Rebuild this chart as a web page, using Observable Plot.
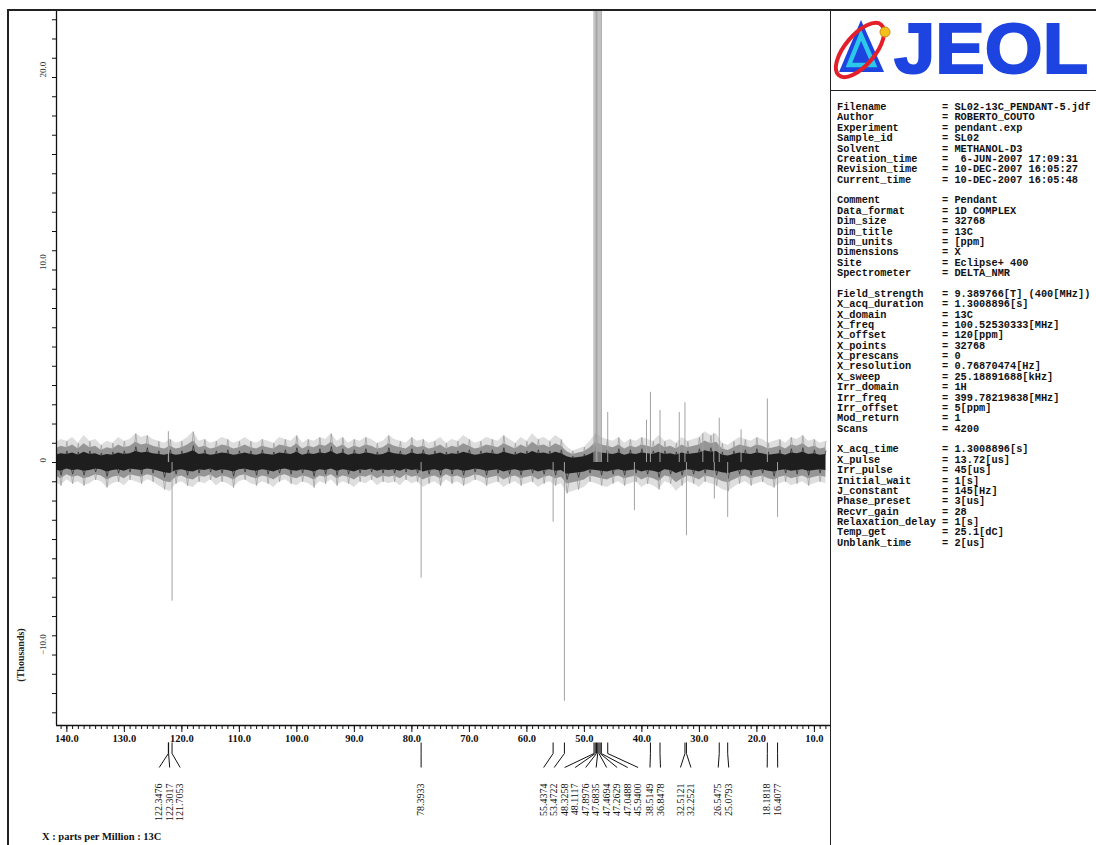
<!DOCTYPE html>
<html><head><meta charset="utf-8">
<script src="https://cdn.jsdelivr.net/npm/d3@7"></script>
<script src="https://cdn.jsdelivr.net/npm/@observablehq/plot@0.6"></script>
<style>
body{margin:0;background:#fff;}
#page{position:relative;width:1096px;height:845px;overflow:hidden;background:#fff;}
#page svg.chart{position:absolute;left:0;top:0;}
.ln{position:absolute;background:#222;}
#info{position:absolute;left:837px;top:102px;width:259px;overflow:hidden;font-family:"Liberation Mono",monospace;font-weight:bold;font-size:10.3px;line-height:10.38px;white-space:pre;color:#111;}
#caption{position:absolute;left:42px;top:831px;font-family:"Liberation Serif",serif;font-weight:bold;font-size:10.5px;color:#111;white-space:nowrap;}
#yunit{position:absolute;left:20px;top:655px;transform:translate(-50%,-50%) rotate(-90deg);font-family:"Liberation Serif",serif;font-weight:bold;font-size:10px;color:#222;white-space:nowrap;}
#logo{position:absolute;left:830px;top:10px;}
</style></head><body><div id="page"></div>
<script>
// ---------- data ----------
const xTickValues = [140,130,120,110,100,90,80,70,60,50,40,30,20,10];
const yTickValues = [20,10,0,-10];
const yTickLabels = ["20.0","10.0","0","\u221210.0"];

// labelled peaks (ppm, intensity in thousands)
const peakPpm = [122.3476,122.3017,121.7053,78.3933,55.4374,53.4722,48.3258,48.1117,47.8976,47.6835,47.4694,47.2629,47.0488,45.9400,38.5149,36.8478,32.5121,32.2521,26.5475,25.0793,18.1818,16.4077];
const peakInt = [1.6,1.2,-7.2,-6.0,-3.1,-12.4,45,130,250,300,250,130,45,2.6,3.65,2.7,3.1,-3.8,2.3,-2.85,3.3,-2.85];
// unlabelled small lines
const minorPpm = [41.3,39.2,33.5,29.4,27.5,27.4,22.75];
const minorInt = [-2.5,2.2,2.6,1.5,1.5,-1.9,1.7];

// baseline noise envelope, read per 1 ppm from 142 down to 8 ppm (thousands)
const noiseHi = [
1.0,1.2,1.1,1.3,1.0,1.4,1.1,1.2,0.9,1.1,
1.0,1.3,1.1,1.2,1.5,1.3,1.4,1.2,1.1,1.0,
1.2,1.0,1.1,1.3,1.6,1.1,1.2,1.0,1.1,1.3,
1.2,1.0,1.1,1.3,1.1,1.0,1.2,1.1,1.0,1.3,
1.2,1.1,1.4,1.0,1.2,1.1,1.3,1.2,1.5,1.1,
1.3,1.0,1.2,1.1,1.3,1.2,1.0,1.1,1.4,1.2,
1.1,1.0,1.3,1.1,1.2,1.0,1.1,1.3,1.0,1.2,
1.1,1.4,1.2,1.0,1.1,1.3,1.2,1.1,1.4,1.2,
1.0,1.3,1.1,1.5,1.2,1.3,1.1,1.4,1.2,0.8,
0.6,0.7,0.8,1.1,1.5,1.3,1.2,1.1,1.3,1.0,
1.2,1.1,1.3,1.2,1.1,1.4,1.1,1.2,1.0,1.3,
1.1,1.2,1.3,1.6,1.4,1.5,1.0,0.9,1.1,1.3,
1.2,1.1,1.3,1.2,1.0,1.1,1.2,1.0,1.3,1.2,
1.4,1.1,1.2,1.0,1.1];
const noiseLo = [
-1.0,-1.2,-0.9,-1.1,-1.0,-1.2,-1.1,-0.9,-1.0,-1.3,
-1.1,-1.0,-1.2,-0.9,-1.0,-1.1,-0.9,-1.0,-1.2,-1.4,
-1.5,-1.1,-1.0,-1.2,-1.3,-1.0,-1.1,-0.9,-1.2,-1.0,
-1.1,-1.3,-1.0,-0.9,-1.1,-1.2,-1.0,-1.1,-1.3,-1.0,
-0.9,-1.1,-1.2,-1.0,-1.1,-1.3,-1.0,-1.1,-0.9,-1.2,
-1.0,-1.1,-1.3,-1.0,-1.1,-0.9,-1.2,-1.0,-1.1,-1.0,
-1.2,-0.9,-1.1,-1.0,-1.3,-1.1,-1.0,-1.2,-0.9,-1.1,
-1.0,-1.2,-1.1,-0.9,-1.0,-1.2,-1.1,-1.0,-1.3,-1.1,
-1.0,-1.2,-1.1,-1.0,-1.3,-1.1,-1.0,-1.2,-1.1,-1.6,
-1.5,-1.4,-1.3,-1.0,-1.1,-1.2,-1.3,-1.1,-1.0,-1.2,
-1.1,-1.0,-1.3,-1.1,-1.2,-1.4,-1.0,-1.1,-1.5,-1.2,
-1.0,-1.1,-1.3,-1.0,-1.1,-1.2,-1.4,-1.5,-1.3,-1.1,
-1.0,-1.2,-1.1,-1.0,-1.2,-1.3,-1.1,-1.0,-1.2,-1.1,
-1.0,-1.2,-1.1,-1.0,-1.1];

const infoNames = ["Filename","Author","Experiment","Sample_id","Solvent","Creation_time","Revision_time","Current_time","",
"Comment","Data_format","Dim_size","Dim_title","Dim_units","Dimensions","Site","Spectrometer","",
"Field_strength","X_acq_duration","X_domain","X_freq","X_offset","X_points","X_prescans","X_resolution","X_sweep","Irr_domain","Irr_freq","Irr_offset","Mod_return","Scans","",
"X_acq_time","X_pulse","Irr_pulse","Initial_wait","J_constant","Phase_preset","Recvr_gain","Relaxation_delay","Temp_get","Unblank_time"];
const infoValues = ["SL02-13C_PENDANT-5.jdf","ROBERTO_COUTO","pendant.exp","SL02","METHANOL-D3"," 6-JUN-2007 17:09:31","10-DEC-2007 16:05:27","10-DEC-2007 16:05:48","",
"Pendant","1D COMPLEX","32768","13C","[ppm]","X","Eclipse+ 400","DELTA_NMR","",
"9.389766[T] (400[MHz])","1.3008896[s]","13C","100.52530333[MHz]","120[ppm]","32768","0","0.76870474[Hz]","25.18891688[kHz]","1H","399.78219838[MHz]","5[ppm]","1","4200","",
"1.3008896[s]","13.72[us]","45[us]","1[s]","145[Hz]","3[us]","28","1[s]","25.1[dC]","2[us]"];

// ---------- layout ----------
const W = 1096, H = 845, mL = 56, mR = 266, mT = 10, mB = 120;
const xDom = [141.8, 7.2], yDom = [-13.66, 23.48];
const plotW = W - mL - mR, plotH = H - mT - mB;
const pxOf = p => mL + (xDom[0] - p) / (xDom[0] - xDom[1]) * plotW;
const ppmAt = px => xDom[0] - (px - mL) / plotW * (xDom[0] - xDom[1]);
const yAt = px => yDom[1] - (px - mT) / plotH * (yDom[1] - yDom[0]);

// spread peak labels so they do not overlap
function spread(xs, gap) {
  let cl = xs.map(x => ({sum: x, n: 1, start: x}));
  let changed = true;
  while (changed) {
    changed = false;
    for (let i = 0; i < cl.length - 1; i++) {
      const a = cl[i], b = cl[i + 1];
      if (b.start - (a.start + (a.n - 1) * gap) < gap) {
        const n = a.n + b.n, sum = a.sum + b.sum;
        cl.splice(i, 2, {sum, n, start: sum / n - (n - 1) * gap / 2});
        changed = true; break;
      }
    }
  }
  const out = [];
  cl.forEach(c => { for (let k = 0; k < c.n; k++) out.push(c.start + k * gap); });
  return out;
}

const peaks = peakPpm.map((p, i) => ({ppm: p, int: peakInt[i]}));
const lines = peaks.concat(minorPpm.map((p, i) => ({ppm: p, int: minorInt[i]})));
const sorted = peaks.slice().sort((a, b) => b.ppm - a.ppm);
const lx = spread(sorted.map(d => pxOf(d.ppm)), 10.5);
const labels = sorted.map((d, i) => ({ppm: d.ppm, lppm: ppmAt(lx[i]), text: d.ppm.toFixed(4)}));

const ppmGrid = d3.range(142, 7, -1);
const noise = ppmGrid.map((p, i) => ({ppm: p, hi: noiseHi[i], lo: noiseLo[i]}));
// zig-zag trace through the envelope (alternating upper / lower reading)
const zig = noise.map((d, i) => ({ppm: d.ppm, v: i % 2 ? d.lo : d.hi}));

const chart = Plot.plot({
  width: W, height: H,
  marginLeft: mL, marginRight: mR, marginTop: mT, marginBottom: mB,
  x: {domain: xDom, axis: null},
  y: {domain: yDom, axis: null},
  style: {background: "transparent", fontFamily: "Liberation Serif, serif", color: "#111"},
  marks: [
    Plot.areaY(noise, {x: "ppm", y1: "lo", y2: "hi", fill: "#dedede", clip: true}),
    Plot.lineY(zig, {x: "ppm", y: "v", stroke: "#999", strokeWidth: 0.7, clip: true}),
    Plot.areaY(noise, {x: "ppm", y1: d => d.lo * 0.7, y2: d => d.hi * 0.7, fill: "#959595", clip: true}),
    Plot.lineY(zig, {x: "ppm", y: d => d.v * 0.55, stroke: "#333", strokeWidth: 0.8, clip: true}),
    Plot.areaY(noise, {x: "ppm", y1: d => d.lo * 0.38, y2: d => d.hi * 0.38, fill: "#1e1e1e", clip: true}),
    Plot.ruleX(lines, {x: "ppm", y1: 0, y2: "int", stroke: "#a2a2a2", strokeWidth: 1, clip: true}),
    Plot.ruleX([xDom[0]], {stroke: "#111", strokeWidth: 1.3}),
    Plot.ruleY([yDom[0]], {stroke: "#111", strokeWidth: 1.3}),
    Plot.axisX({ticks: d3.range(8, 142), tickSize: 4, tickFormat: () => "", anchor: "bottom"}),
    Plot.axisX({ticks: xTickValues, tickSize: 7, tickPadding: 2, tickFormat: d => d.toFixed(1), anchor: "bottom", fontWeight: "bold", fontSize: 10.5}),
    Plot.axisY({ticks: d3.range(-13, 24), tickSize: 4, tickFormat: () => "", anchor: "left"}),
    Plot.text(yTickValues, {y: d => d, frameAnchor: "left", dx: -13, rotate: -90, text: (d, i) => yTickLabels[i], fontSize: 9, fill: "#333"}),
    Plot.link(labels, {x1: "ppm", x2: "ppm", y1: yAt(742), y2: yAt(753), stroke: "#111", strokeWidth: 1}),
    Plot.link(labels, {x1: "ppm", x2: "lppm", y1: yAt(753), y2: yAt(767), stroke: "#111", strokeWidth: 1}),
    Plot.text(labels, {x: "lppm", y: yAt(783), text: "text", rotate: -90, textAnchor: "end", fontSize: 10, fill: "#111"})
  ]
});
chart.classList.add("chart");

const page = document.getElementById("page");
page.appendChild(chart);

function line(l, t, w, h) { const d = document.createElement("div"); d.className = "ln"; Object.assign(d.style, {left: l + "px", top: t + "px", width: w + "px", height: h + "px"}); page.appendChild(d); }
line(7, 9, 1089, 1.5);     // top frame
line(7, 9, 1.5, 836);      // left frame
line(829.5, 9, 1.5, 836);  // panel separator
line(830, 89.5, 266, 1.3); // logo separator

// info panel
const info = document.createElement("div"); info.id = "info";
info.textContent = infoNames.map((n, i) => n === "" ? "" : n.padEnd(17) + "= " + infoValues[i]).join("\n");
page.appendChild(info);

// caption and y unit
const cap = document.createElement("div"); cap.id = "caption"; cap.textContent = "X : parts per Million : 13C"; page.appendChild(cap);
const yu = document.createElement("div"); yu.id = "yunit"; yu.textContent = "(Thousands)"; page.appendChild(yu);

// logo
const logo = document.createElement("div"); logo.id = "logo";
logo.innerHTML = `<svg width="266" height="79" viewBox="0 0 266 79">
 <polygon points="31,10 9,62 54,62" fill="#1d44e0"/>
 <polygon points="31,25 19,55 44,55" fill="none" stroke="#2bc8ea" stroke-width="4.5"/>
 <ellipse cx="30" cy="40" rx="15" ry="33" transform="rotate(40 30 40)" fill="none" stroke="#e3202a" stroke-width="4"/>
 <circle cx="55" cy="22" r="5" fill="#f2c21b" stroke="#d08a10" stroke-width="1"/>
 <text x="64" y="63" font-family="Liberation Sans, Arial, sans-serif" font-weight="bold" font-size="70" fill="#1d44e0" stroke="#1d44e0" stroke-width="2" textLength="194" lengthAdjust="spacingAndGlyphs">JEOL</text>
</svg>`;
page.appendChild(logo);
</script></body></html>
